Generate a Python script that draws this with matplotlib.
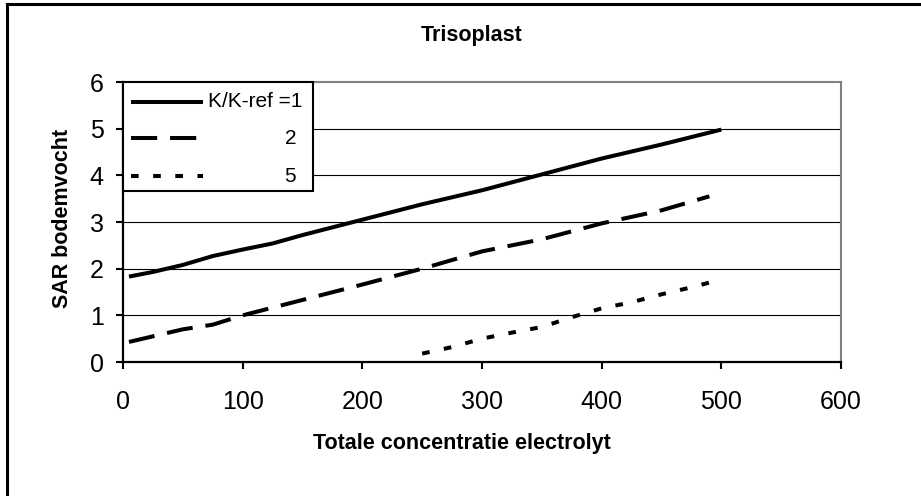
import matplotlib
matplotlib.use('Agg')
from matplotlib import pyplot as plt
from matplotlib.lines import Line2D
from matplotlib.patches import Rectangle

plt.rcParams['font.family'] = ['Liberation Sans', 'DejaVu Sans']

# data
x_k1 = [5, 25, 50, 75, 100, 125, 150, 200, 250, 300, 350, 400, 450, 500]
y_k1 = [1.83, 1.93, 2.08, 2.27, 2.41, 2.54, 2.72, 3.05, 3.38, 3.68, 4.02, 4.36, 4.66, 4.98]
x_k2 = [5, 25, 50, 75, 100, 150, 200, 250, 300, 350, 400, 450, 490]
y_k2 = [0.43, 0.55, 0.70, 0.80, 1.00, 1.33, 1.66, 2.00, 2.37, 2.63, 2.97, 3.25, 3.55]
x_k5 = [250, 275, 300, 325, 350, 375, 400, 425, 450, 475, 500]
y_k5 = [0.18, 0.32, 0.50, 0.63, 0.75, 0.96, 1.15, 1.28, 1.45, 1.60, 1.77]
legend_labels = ['K/K-ref =1', '2', '5']
xticks = [0, 100, 200, 300, 400, 500, 600]
yticks = [0, 1, 2, 3, 4, 5, 6]

fig = plt.figure(figsize=(9.21, 4.96), dpi=100)
ax = fig.add_axes([123/921, 1 - 362/496, 718/921, 280/496])

styles = ['-', (0, (6.5, 3.2)), (0, (1.9, 3.6))]
lw = 2.9
ax.plot(x_k1, y_k1, color='black', lw=lw, linestyle=styles[0], solid_capstyle='butt')
ax.plot(x_k2, y_k2, color='black', lw=lw, linestyle=styles[1], dash_capstyle='butt')
ax.plot(x_k5, y_k5, color='black', lw=lw, linestyle=styles[2], dash_capstyle='butt')

ax.set_xlim(0, 600)
ax.set_ylim(0, 6)
ax.set_xticks(xticks)
ax.set_yticks(yticks)
ax.tick_params(axis='both', labelsize=18, direction='out', length=5, width=1.5, color='black')
ax.tick_params(axis='y', pad=9)
ax.tick_params(axis='x', pad=15)
for y in yticks[1:-1]:
    ax.axhline(y, color='black', lw=0.8, zorder=0)
for s in ['left', 'bottom']:
    ax.spines[s].set_linewidth(1.6)
    ax.spines[s].set_color('black')
for s in ['top', 'right']:
    ax.spines[s].set_linewidth(1.5)
    ax.spines[s].set_color('#808080')

# legend box drawn by hand to keep Excel layout
ax.add_patch(Rectangle((0, 0.6107), 0.2646, 0.3893, transform=ax.transAxes,
                       facecolor='white', edgecolor='black', lw=1.5, zorder=5, clip_on=False))
leg_y = [0.929, 0.80, 0.664]
for st, yy in zip(styles, leg_y):
    ax.plot([0.0110, 0.112], [yy, yy], transform=ax.transAxes, color='black', lw=lw,
            linestyle=st, zorder=6, solid_capstyle='butt', dash_capstyle='butt')
ax.text(0.1184, leg_y[0], legend_labels[0], transform=ax.transAxes, fontsize=15,
        va='center', ha='left', zorder=7)
ax.text(0.233, leg_y[1], legend_labels[1], transform=ax.transAxes, fontsize=15,
        va='center', ha='center', zorder=7)
ax.text(0.233, leg_y[2], legend_labels[2], transform=ax.transAxes, fontsize=15,
        va='center', ha='center', zorder=7)

fig.text(472/921, 1 - 35/496, 'Trisoplast', fontsize=15.5, fontweight='bold', ha='center', va='center')
fig.text(462/921, 1 - 443/496, 'Totale concentratie electrolyt', fontsize=15.5, fontweight='bold',
         ha='center', va='center')
fig.text(63/921, 1 - 218/496, 'SAR bodemvocht', fontsize=15.5, fontweight='bold', rotation=90,
         ha='center', va='center')

# outer chart frame (only left and top edges visible)
fig.add_artist(Line2D([7/921, 7/921], [0, 1 - 4/496], color='black', lw=2.2))
fig.add_artist(Line2D([7/921, 1], [1 - 4/496, 1 - 4/496], color='black', lw=2.2))

plt.savefig('out.png', dpi=100)
